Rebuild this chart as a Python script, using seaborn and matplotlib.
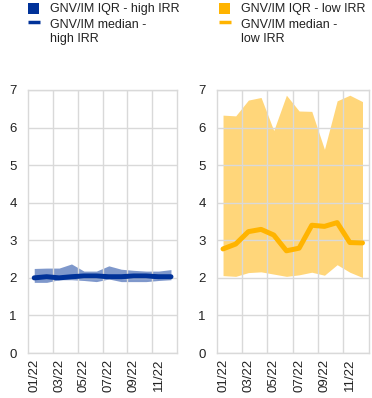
import matplotlib
matplotlib.use("Agg")
import matplotlib.pyplot as plt
import seaborn as sns
import pandas as pd
import numpy as np
from matplotlib.patches import Rectangle
from matplotlib.lines import Line2D

months = ["01/22", "02/22", "03/22", "04/22", "05/22", "06/22",
          "07/22", "08/22", "09/22", "10/22", "11/22", "12/22"]

high_median = [2.00, 2.03, 2.00, 2.03, 2.05, 2.05, 2.03, 2.03, 2.05, 2.05, 2.03, 2.03]
high_q75 = [2.25, 2.26, 2.26, 2.37, 2.18, 2.18, 2.32, 2.23, 2.20, 2.18, 2.18, 2.22]
high_q25 = [1.88, 1.88, 1.95, 1.95, 1.93, 1.90, 1.97, 1.90, 1.90, 1.90, 1.93, 1.95]

low_median = [2.77, 2.90, 3.23, 3.29, 3.14, 2.72, 2.79, 3.40, 3.37, 3.47, 2.94, 2.93]
low_q75 = [6.33, 6.31, 6.73, 6.80, 5.92, 6.86, 6.44, 6.43, 5.42, 6.71, 6.86, 6.69]
low_q25 = [2.06, 2.04, 2.14, 2.16, 2.10, 2.04, 2.08, 2.15, 2.07, 2.35, 2.15, 2.01]

tick_labels = ["01/22", "03/22", "05/22", "07/22", "09/22", "11/22"]

legend_high = ["GNV/IM IQR - high IRR", "GNV/IM median -\nhigh IRR"]
legend_low = ["GNV/IM IQR - low IRR", "GNV/IM median -\nlow IRR"]

BLUE = "#003299"
YELLOW = "#FFB400"
YELLOW_FILL = "#FFD67A"
GRID = "#d9d9d9"
TEXT = "#222222"

sns.set_style("white")
plt.rcParams['font.family'] = ['Liberation Sans', 'DejaVu Sans']

W, H = 372, 398
fig = plt.figure(figsize=(W / 100, H / 100), dpi=100)
ax1 = fig.add_axes([0.0753, 0.113, 0.401, 0.661])
ax2 = fig.add_axes([0.5825, 0.113, 0.409, 0.661])

x = np.arange(len(months))

def draw(ax, med, q25, q75, color, fill_color, fill_alpha):
    df = pd.DataFrame({"x": x, "median": med})
    ax.fill_between(x, q25, q75, color=fill_color, alpha=fill_alpha, lw=0, zorder=1)
    sns.lineplot(data=df, x="x", y="median", ax=ax, color=color, lw=3.6, zorder=3,
                 solid_capstyle="round")
    ax.set_xlim(-0.5, 11.5)
    ax.set_ylim(0, 7)
    ax.set_yticks(range(0, 8))
    ax.set_xticks(x[::2])
    ax.set_xticklabels(tick_labels, rotation=90)
    ax.set_xticks(np.arange(1.5, 11, 2), minor=True)
    ax.grid(False)
    ax.grid(True, which="minor", axis="x", color=GRID, lw=1, zorder=2)
    ax.grid(True, which="major", axis="y", color=GRID, lw=1, zorder=2)
    ax.set_axisbelow(False)
    ax.tick_params(axis="both", which="both", length=0, labelsize=9.5, colors=TEXT)
    ax.tick_params(axis="x", pad=4)
    ax.tick_params(axis="y", pad=8)
    for s in ax.spines.values():
        s.set_color(GRID)
        s.set_linewidth(1)
    ax.set_xlabel("")
    ax.set_ylabel("")

draw(ax1, high_median, high_q25, high_q75, BLUE, BLUE, 0.5)
draw(ax2, low_median, low_q25, low_q75, YELLOW, YELLOW_FILL, 1.0)

def legend_block(x0, color, labels):
    # square patch for the IQR
    fig.patches.append(Rectangle((x0 / W, 1 - 14 / H), 11 / W, 11 / H,
                                 transform=fig.transFigure, color=color, lw=0))
    # short thick line for the median
    fig.lines.append(Line2D([x0 / W, (x0 + 12) / W], [1 - 22 / H, 1 - 22 / H],
                            transform=fig.transFigure, color=color, lw=2.5,
                            solid_capstyle="butt"))
    tx = (x0 + 22) / W
    fig.text(tx, 1 - 9 / H, labels[0], fontsize=9, color=TEXT, va="center", ha="left")
    fig.text(tx, 1 - 19 / H, labels[1], fontsize=9, color=TEXT, va="top", ha="left",
             linespacing=1.25)

legend_block(28, BLUE, legend_high)
legend_block(219, YELLOW, legend_low)

fig.savefig("out.png", dpi=100)
